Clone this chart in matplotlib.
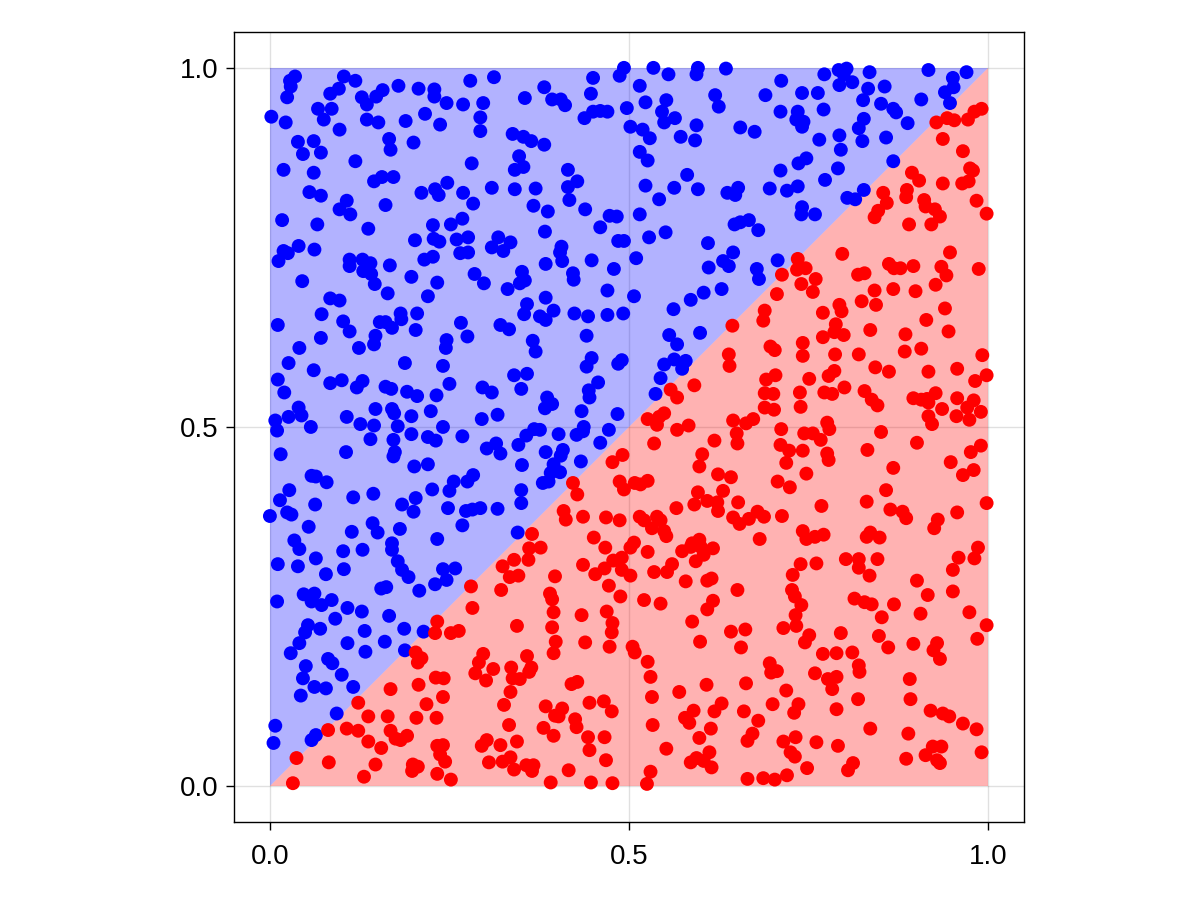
import matplotlib
matplotlib.use("Agg")
import matplotlib.pyplot as plt

plt.rcParams['font.family'] = ['Liberation Sans', 'DejaVu Sans']

# Points above the diagonal (y > x), blue
blue_points = [
    (0.035,0.988),(0.028,0.982),(0.029,0.974),(0.024,0.959),(0.103,0.988),(0.119,0.982),(0.084,0.964),(0.096,0.971),
    (0.128,0.959),(0.135,0.949),(0.148,0.960),(0.157,0.969),(0.179,0.975),(0.207,0.971),(0.229,0.970),(0.229,0.960),
    (0.067,0.943),(0.086,0.943),(0.075,0.928),(0.002,0.932),(0.022,0.924),(0.097,0.914),(0.135,0.928),(0.151,0.924),
    (0.189,0.926),(0.216,0.936),(0.237,0.921),(0.166,0.901),(0.168,0.886),(0.200,0.896),(0.039,0.897),(0.061,0.898),
    (0.046,0.880),(0.071,0.882),(0.119,0.870),(0.019,0.858),(0.061,0.854),(0.145,0.842),(0.156,0.848),(0.172,0.848),
    (0.211,0.826),(0.230,0.831),(0.235,0.823),(0.055,0.827),(0.071,0.822),(0.107,0.815),(0.097,0.803),(0.112,0.796),
    (0.161,0.809),(0.017,0.788),(0.066,0.782),(0.137,0.776),(0.227,0.781),(0.202,0.760),(0.228,0.762),(0.236,0.758),
    (0.040,0.752),(0.019,0.745),(0.025,0.742),(0.012,0.731),(0.062,0.747),(0.111,0.733),(0.111,0.724),(0.129,0.733),
    (0.140,0.728),(0.130,0.717),(0.141,0.713),(0.146,0.699),(0.167,0.725),(0.197,0.709),(0.215,0.733),(0.227,0.737),
    (0.233,0.701),(0.045,0.703),(0.164,0.686),(0.220,0.682),(0.084,0.679),(0.097,0.676),
    (0.246,0.951),(0.279,0.982),(0.312,0.987),(0.269,0.949),(0.297,0.951),(0.293,0.931),(0.293,0.912),(0.355,0.958),
    (0.382,0.973),(0.393,0.956),(0.405,0.956),(0.411,0.948),(0.450,0.986),(0.447,0.964),(0.438,0.930),(0.450,0.939),
    (0.460,0.940),(0.470,0.939),(0.487,0.989),(0.493,1.000),(0.338,0.908),(0.353,0.904),(0.364,0.898),(0.382,0.893),
    (0.347,0.877),(0.341,0.858),(0.353,0.862),(0.281,0.867),(0.247,0.840),(0.269,0.826),(0.283,0.811),(0.309,0.833),
    (0.341,0.831),(0.370,0.832),(0.367,0.808),(0.387,0.800),(0.415,0.858),(0.428,0.842),(0.415,0.834),(0.417,0.816),
    (0.439,0.803),(0.473,0.794),(0.483,0.793),(0.460,0.778),(0.485,0.759),(0.493,0.759),(0.252,0.782),(0.268,0.790),
    (0.260,0.761),(0.276,0.764),(0.265,0.742),(0.276,0.743),(0.318,0.764),(0.309,0.750),(0.325,0.745),(0.335,0.757),
    (0.383,0.772),(0.406,0.751),(0.404,0.743),(0.407,0.731),(0.384,0.727),(0.448,0.732),(0.479,0.720),(0.285,0.713),
    (0.298,0.700),(0.331,0.692),(0.351,0.716),(0.355,0.704),(0.348,0.700),(0.422,0.714),(0.423,0.705),(0.470,0.690),
    (0.384,0.680),
    (0.534,1.000),(0.555,0.991),(0.596,1.000),(0.594,0.991),(0.635,0.999),(0.497,0.944),(0.515,0.975),(0.523,0.952),
    (0.552,0.955),(0.546,0.939),(0.549,0.924),(0.564,0.930),(0.502,0.918),(0.519,0.914),(0.529,0.902),(0.572,0.904),
    (0.592,0.899),(0.594,0.920),(0.620,0.962),(0.625,0.946),(0.655,0.917),(0.675,0.911),(0.690,0.962),(0.712,0.982),
    (0.711,0.939),(0.741,0.965),(0.735,0.939),(0.733,0.928),(0.743,0.925),(0.741,0.918),(0.515,0.883),(0.526,0.871),
    (0.581,0.851),(0.523,0.836),(0.563,0.833),(0.596,0.831),(0.542,0.817),(0.637,0.826),(0.648,0.823),(0.652,0.833),
    (0.696,0.832),(0.720,0.829),(0.735,0.835),(0.711,0.857),(0.736,0.867),(0.747,0.874),(0.741,0.806),(0.740,0.796),
    (0.515,0.796),(0.528,0.764),(0.551,0.771),(0.647,0.782),(0.655,0.785),(0.667,0.788),(0.680,0.774),(0.610,0.756),
    (0.645,0.743),(0.631,0.731),(0.639,0.724),(0.611,0.722),(0.510,0.735),(0.678,0.720),(0.681,0.706),(0.707,0.732),
    (0.507,0.682),(0.586,0.677),(0.604,0.687),(0.629,0.692),
    (0.772,0.991),(0.792,0.997),(0.803,0.999),(0.799,0.991),(0.811,0.980),(0.793,0.976),(0.835,0.994),(0.833,0.971),
    (0.826,0.955),(0.856,0.974),(0.851,0.950),(0.868,0.943),(0.872,0.938),(0.888,0.923),(0.917,0.997),(0.907,0.956),
    (0.951,0.986),(0.970,0.994),(0.952,0.973),(0.940,0.966),(0.947,0.951),(0.763,0.965),(0.771,0.942),(0.827,0.929),
    (0.820,0.916),(0.793,0.906),(0.765,0.900),(0.825,0.898),(0.858,0.903),(0.795,0.886),(0.868,0.870),(0.791,0.860),
    (0.773,0.844),(0.827,0.830),(0.804,0.819),(0.815,0.817),(0.759,0.796),
    (0.011,0.642),(0.072,0.657),(0.102,0.647),(0.111,0.633),(0.071,0.624),(0.041,0.610),(0.124,0.610),(0.153,0.646),
    (0.161,0.646),(0.170,0.638),(0.182,0.658),(0.183,0.650),(0.205,0.658),(0.203,0.635),(0.147,0.627),(0.145,0.615),
    (0.188,0.589),(0.026,0.589),(0.061,0.579),(0.011,0.566),(0.020,0.548),(0.084,0.561),(0.100,0.565),(0.121,0.555),
    (0.129,0.564),(0.161,0.556),(0.169,0.553),(0.191,0.549),(0.205,0.543),(0.232,0.544),(0.040,0.527),(0.044,0.516),
    (0.026,0.514),(0.0075,0.509),(0.010,0.495),(0.057,0.500),(0.107,0.514),(0.126,0.504),(0.147,0.525),(0.145,0.502),
    (0.170,0.525),(0.173,0.519),(0.178,0.501),(0.197,0.515),(0.224,0.522),(0.197,0.490),(0.140,0.483),(0.172,0.482),
    (0.220,0.486),(0.231,0.481),(0.174,0.465),(0.172,0.459),(0.106,0.465),(0.015,0.462),(0.201,0.445),(0.220,0.448),
    (0.058,0.432),(0.064,0.431),(0.079,0.423),(0.027,0.412),(0.014,0.398),(0.000,0.376),(0.024,0.381),(0.030,0.378),
    (0.063,0.392),(0.116,0.402),(0.144,0.407),(0.184,0.392),(0.203,0.401),(0.200,0.382),(0.226,0.413),(0.054,0.361),
    (0.114,0.354),(0.143,0.366),(0.150,0.353),(0.181,0.358),(0.233,0.344),(0.034,0.342),(0.170,0.338),
    (0.358,0.671),(0.354,0.657),(0.376,0.654),(0.384,0.649),(0.395,0.662),(0.424,0.658),(0.443,0.654),(0.470,0.656),
    (0.492,0.658),(0.266,0.645),(0.275,0.626),(0.321,0.642),(0.333,0.636),(0.366,0.620),(0.370,0.605),(0.441,0.627),
    (0.246,0.621),(0.245,0.610),(0.241,0.585),(0.448,0.596),(0.441,0.584),(0.490,0.593),(0.485,0.588),(0.340,0.572),
    (0.358,0.574),(0.350,0.553),(0.296,0.555),(0.309,0.548),(0.250,0.560),(0.457,0.562),(0.444,0.551),(0.445,0.541),
    (0.386,0.541),(0.393,0.532),(0.383,0.526),(0.434,0.522),(0.484,0.518),(0.317,0.517),(0.295,0.511),(0.241,0.500),
    (0.268,0.487),(0.368,0.497),(0.376,0.496),(0.357,0.488),(0.402,0.490),(0.427,0.489),(0.437,0.500),(0.436,0.494),
    (0.472,0.496),(0.460,0.478),(0.302,0.470),(0.315,0.477),(0.321,0.463),(0.346,0.475),(0.384,0.465),(0.408,0.468),
    (0.405,0.460),(0.433,0.452),(0.351,0.447),(0.395,0.448),(0.391,0.436),(0.404,0.437),(0.380,0.422),(0.388,0.424),
    (0.256,0.424),(0.250,0.411),(0.283,0.433),(0.275,0.424),(0.350,0.412),(0.350,0.394),(0.248,0.387),(0.273,0.383),
    (0.282,0.385),(0.293,0.387),(0.317,0.386),(0.268,0.363),(0.345,0.353),
    (0.562,0.664),(0.556,0.628),(0.567,0.615),(0.599,0.631),(0.549,0.587),(0.563,0.594),(0.579,0.592),(0.574,0.581),
    (0.544,0.568),(0.537,0.546),
    (0.041,0.330),(0.102,0.327),(0.129,0.329),(0.170,0.329),(0.011,0.309),(0.039,0.306),(0.064,0.317),(0.078,0.295),
    (0.103,0.302),(0.178,0.313),(0.184,0.301),(0.193,0.291),(0.155,0.275),(0.162,0.277),(0.208,0.272),(0.230,0.281),
    (0.010,0.257),(0.047,0.267),(0.062,0.268),(0.058,0.257),(0.072,0.252),(0.086,0.259),(0.108,0.248),(0.128,0.243),
    (0.091,0.233),(0.166,0.237),(0.187,0.219),(0.214,0.215),(0.053,0.224),(0.049,0.214),(0.070,0.219),(0.132,0.216),
    (0.041,0.199),(0.029,0.185),(0.108,0.199),(0.133,0.187),(0.160,0.201),(0.188,0.189),(0.081,0.177),(0.087,0.171),
    (0.050,0.167),(0.046,0.150),(0.100,0.155),(0.062,0.138),(0.078,0.136),(0.116,0.138),(0.043,0.126),(0.093,0.101),
    (0.0075,0.084),(0.005,0.060),(0.064,0.071),(0.058,0.064),
    (0.241,0.302),(0.258,0.303),(0.246,0.287),
]

# Points below the diagonal (y < x), red
red_points = [
    (0.735,0.734),(0.746,0.721),(0.734,0.719),(0.713,0.712),(0.740,0.699),(0.706,0.685),
    (0.928,0.924),(0.943,0.930),(0.953,0.927),(0.972,0.928),(0.981,0.939),(0.991,0.943),(0.937,0.901),(0.965,0.884),
    (0.975,0.860),(0.979,0.857),(0.894,0.854),(0.904,0.843),(0.937,0.839),(0.964,0.839),(0.973,0.842),(0.887,0.830),
    (0.886,0.820),(0.854,0.826),(0.859,0.812),(0.847,0.801),(0.842,0.792),(0.911,0.816),(0.913,0.807),(0.926,0.803),
    (0.933,0.793),(0.921,0.782),(0.890,0.782),(0.984,0.815),(0.998,0.797),(0.797,0.741),(0.947,0.743),(0.987,0.720),
    (0.862,0.727),(0.869,0.721),(0.878,0.721),(0.896,0.724),(0.935,0.723),(0.942,0.711),(0.927,0.698),(0.819,0.712),
    (0.828,0.714),(0.760,0.706),(0.756,0.688),(0.842,0.690),(0.868,0.692),(0.899,0.689),
    (0.477,0.451),(0.491,0.461),(0.487,0.424),(0.493,0.413),(0.422,0.422),(0.428,0.406),(0.409,0.383),(0.412,0.371),
    (0.436,0.375),(0.468,0.374),(0.487,0.370),(0.451,0.346),(0.365,0.351),
    (0.689,0.662),(0.687,0.648),(0.644,0.641),(0.697,0.612),(0.703,0.607),(0.742,0.617),(0.742,0.599),(0.639,0.601),
    (0.640,0.585),(0.691,0.566),(0.704,0.572),(0.751,0.567),(0.591,0.558),(0.558,0.552),(0.567,0.541),(0.689,0.547),
    (0.701,0.546),(0.738,0.548),(0.739,0.528),(0.689,0.527),(0.702,0.524),(0.645,0.509),(0.663,0.505),(0.673,0.511),
    (0.549,0.519),(0.542,0.514),(0.526,0.511),(0.539,0.503),(0.567,0.496),(0.583,0.502),(0.712,0.497),(0.744,0.491),
    (0.650,0.491),(0.651,0.477),(0.619,0.481),(0.535,0.477),(0.602,0.462),(0.598,0.445),(0.711,0.475),(0.723,0.467),
    (0.742,0.467),(0.719,0.450),(0.747,0.435),(0.624,0.434),(0.642,0.430),(0.707,0.424),(0.724,0.416),(0.508,0.422),
    (0.516,0.420),(0.526,0.425),(0.596,0.409),(0.631,0.411),(0.591,0.392),(0.609,0.397),(0.623,0.395),(0.624,0.383),
    (0.652,0.395),(0.566,0.387),(0.645,0.374),(0.654,0.365),(0.667,0.372),(0.679,0.382),(0.688,0.375),(0.713,0.376),
    (0.515,0.375),(0.521,0.370),(0.539,0.375),(0.544,0.370),(0.532,0.359),(0.549,0.355),(0.552,0.348),(0.742,0.355),
    (0.747,0.344),(0.682,0.344),(0.507,0.339),(0.588,0.338),(0.598,0.343),
    (0.793,0.670),(0.796,0.661),(0.824,0.675),(0.844,0.670),(0.940,0.665),(0.770,0.659),(0.788,0.643),(0.786,0.632),
    (0.799,0.628),(0.770,0.625),(0.836,0.635),(0.914,0.649),(0.945,0.633),(0.885,0.629),(0.884,0.605),(0.907,0.609),
    (0.787,0.601),(0.820,0.601),(0.992,0.600),(0.843,0.583),(0.862,0.577),(0.917,0.577),(0.957,0.581),(0.998,0.572),
    (0.982,0.564),(0.786,0.578),(0.778,0.571),(0.800,0.555),(0.772,0.548),(0.783,0.546),(0.828,0.550),(0.838,0.538),
    (0.846,0.530),(0.896,0.540),(0.907,0.538),(0.915,0.539),(0.917,0.534),(0.927,0.547),(0.936,0.525),(0.957,0.540),
    (0.956,0.515),(0.917,0.515),(0.922,0.504),(0.971,0.527),(0.980,0.537),(0.990,0.521),(0.974,0.510),(0.776,0.506),
    (0.779,0.497),(0.756,0.491),(0.767,0.482),(0.776,0.463),(0.778,0.454),(0.851,0.493),(0.832,0.468),(0.901,0.478),
    (0.868,0.443),(0.948,0.451),(0.976,0.465),(0.990,0.474),(0.965,0.433),(0.980,0.440),(0.858,0.412),(0.831,0.396),
    (0.768,0.390),(0.864,0.385),(0.881,0.382),(0.886,0.373),(0.957,0.381),(0.998,0.394),(0.930,0.371),(0.925,0.359),
    (0.831,0.347),(0.836,0.353),(0.849,0.346),(0.771,0.350),(0.759,0.347),
    (0.233,0.229),(0.230,0.213),(0.203,0.186),(0.211,0.178),(0.206,0.172),(0.231,0.151),(0.168,0.135),(0.207,0.141),
    (0.218,0.114),(0.123,0.116),(0.137,0.097),(0.164,0.097),(0.204,0.095),(0.232,0.095),(0.081,0.078),(0.107,0.080),
    (0.123,0.077),(0.137,0.062),(0.155,0.053),(0.168,0.077),(0.175,0.066),(0.182,0.064),(0.191,0.070),(0.233,0.056),
    (0.237,0.044),(0.037,0.039),(0.082,0.033),(0.147,0.030),(0.199,0.030),(0.206,0.027),(0.198,0.021),(0.131,0.013),
    (0.233,0.017),(0.032,0.004),
    (0.361,0.331),(0.377,0.332),(0.467,0.332),(0.340,0.315),(0.360,0.315),(0.324,0.306),(0.334,0.291),(0.346,0.293),
    (0.280,0.278),(0.322,0.273),(0.397,0.292),(0.390,0.268),(0.393,0.260),(0.395,0.242),(0.393,0.221),(0.398,0.201),
    (0.395,0.185),(0.436,0.308),(0.453,0.295),(0.466,0.303),(0.478,0.314),(0.490,0.318),(0.490,0.301),(0.472,0.279),
    (0.488,0.264),(0.434,0.238),(0.469,0.243),(0.477,0.227),(0.476,0.214),(0.473,0.194),(0.439,0.200),(0.282,0.248),
    (0.344,0.223),(0.252,0.213),(0.263,0.216),(0.297,0.184),(0.291,0.172),(0.286,0.157),(0.301,0.147),(0.311,0.163),
    (0.336,0.165),(0.358,0.181),(0.364,0.165),(0.361,0.159),(0.338,0.150),(0.348,0.149),(0.335,0.131),(0.326,0.113),
    (0.242,0.150),(0.241,0.124),(0.420,0.142),(0.428,0.145),(0.384,0.111),(0.397,0.098),(0.407,0.108),(0.402,0.097),
    (0.381,0.081),(0.395,0.070),(0.425,0.093),(0.427,0.082),(0.445,0.116),(0.465,0.118),(0.476,0.104),(0.333,0.085),
    (0.344,0.062),(0.302,0.064),(0.295,0.056),(0.321,0.057),(0.305,0.033),(0.324,0.034),(0.335,0.040),(0.340,0.023),
    (0.357,0.029),(0.367,0.029),(0.365,0.021),(0.416,0.022),(0.443,0.068),(0.445,0.050),(0.466,0.068),(0.468,0.036),
    (0.391,0.005),(0.447,0.005),(0.477,0.004),(0.252,0.009),(0.241,0.057),(0.244,0.034),
    (0.502,0.332),(0.526,0.326),(0.574,0.327),(0.586,0.333),(0.600,0.333),(0.617,0.331),(0.604,0.322),(0.593,0.313),
    (0.560,0.309),(0.553,0.298),(0.535,0.298),(0.502,0.293),(0.579,0.285),(0.609,0.286),(0.615,0.289),(0.651,0.273),
    (0.521,0.259),(0.544,0.254),(0.617,0.258),(0.609,0.246),(0.588,0.229),(0.599,0.201),(0.642,0.215),(0.662,0.218),
    (0.656,0.193),(0.505,0.194),(0.508,0.186),(0.526,0.173),(0.530,0.152),(0.532,0.124),(0.533,0.085),(0.552,0.052),
    (0.530,0.020),(0.525,0.003),(0.570,0.131),(0.608,0.141),(0.590,0.105),(0.578,0.095),(0.584,0.088),(0.619,0.104),
    (0.629,0.115),(0.614,0.080),(0.598,0.067),(0.612,0.047),(0.594,0.039),(0.586,0.033),(0.604,0.035),(0.615,0.026),
    (0.663,0.143),(0.660,0.104),(0.680,0.091),(0.672,0.073),(0.665,0.063),(0.696,0.171),(0.698,0.158),(0.706,0.160),
    (0.719,0.133),(0.700,0.114),(0.736,0.114),(0.730,0.102),(0.715,0.062),(0.732,0.068),(0.725,0.047),(0.731,0.041),
    (0.748,0.025),(0.665,0.010),(0.687,0.011),(0.703,0.009),(0.720,0.015),(0.739,0.309),(0.728,0.294),(0.727,0.273),
    (0.731,0.264),(0.740,0.252),(0.732,0.238),(0.733,0.223),(0.715,0.220),(0.751,0.210),(0.745,0.200),
    (0.986,0.332),(0.981,0.317),(0.959,0.318),(0.951,0.301),(0.951,0.271),(0.974,0.242),(0.998,0.224),(0.985,0.205),
    (0.761,0.310),(0.802,0.316),(0.820,0.316),(0.820,0.304),(0.846,0.316),(0.835,0.293),(0.901,0.286),(0.916,0.266),
    (0.814,0.261),(0.828,0.256),(0.838,0.253),(0.869,0.253),(0.852,0.235),(0.906,0.240),(0.848,0.209),(0.861,0.193),
    (0.896,0.198),(0.929,0.199),(0.924,0.189),(0.933,0.177),(0.795,0.213),(0.770,0.184),(0.789,0.185),(0.811,0.186),
    (0.820,0.168),(0.821,0.159),(0.759,0.157),(0.777,0.149),(0.789,0.152),(0.783,0.135),(0.819,0.121),(0.789,0.107),
    (0.891,0.149),(0.892,0.121),(0.920,0.105),(0.937,0.101),(0.946,0.097),(0.965,0.087),(0.984,0.079),(0.836,0.080),
    (0.889,0.073),(0.761,0.061),(0.791,0.056),(0.991,0.047),(0.923,0.055),(0.935,0.055),(0.913,0.043),(0.929,0.036),
    (0.933,0.032),(0.886,0.038),(0.812,0.032),(0.805,0.022),
]

tick_values = [0.0, 0.5, 1.0]
tick_labels = ["0.0", "0.5", "1.0"]
domain = (0.0, 1.0)

bx = [p[0] for p in blue_points]
by = [p[1] for p in blue_points]
rx = [p[0] for p in red_points]
ry = [p[1] for p in red_points]

fig = plt.figure(figsize=(12, 9), dpi=100)
ax = fig.add_axes([0.195, 0.0867, 0.6583, 0.8778])

lo, hi = domain
# region fills (upper-left triangle blue, lower-right triangle red)
ax.fill([lo, lo, hi], [lo, hi, hi], color=(0, 0, 1), alpha=0.3, linewidth=0, zorder=1)
ax.fill([lo, hi, hi], [lo, lo, hi], color=(1, 0, 0), alpha=0.3, linewidth=0, zorder=1)

ax.scatter(bx, by, s=100, color=(0, 0, 1), edgecolors='none', zorder=3)
ax.scatter(rx, ry, s=100, color=(1, 0, 0), edgecolors='none', zorder=3)

ax.set_xlim(-0.05, 1.05)
ax.set_ylim(-0.05, 1.05)
ax.set_xticks(tick_values)
ax.set_xticklabels(tick_labels)
ax.set_yticks(tick_values)
ax.set_yticklabels(tick_labels)
ax.grid(True, color='black', alpha=0.12, linewidth=1.0, zorder=0)
ax.set_axisbelow(True)
ax.tick_params(axis='both', labelsize=20, length=6, width=1.0, direction='out')
ax.tick_params(axis='x', pad=10)
ax.tick_params(axis='y', pad=5)
for sp in ax.spines.values():
    sp.set_linewidth(1.0)
    sp.set_color('black')

fig.savefig("out.png", dpi=100)
